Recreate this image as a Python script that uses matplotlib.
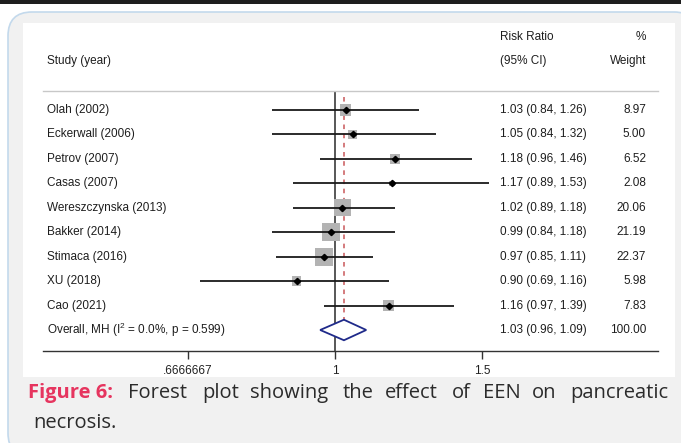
import numpy as np
import matplotlib
matplotlib.use("Agg")
import matplotlib.pyplot as plt
from matplotlib.patches import FancyBboxPatch, Rectangle
from matplotlib.transforms import IdentityTransform, blended_transform_factory

# data
studies = ["Olah (2002)", "Eckerwall (2006)", "Petrov (2007)", "Casas (2007)",
           "Wereszczynska (2013)", "Bakker (2014)", "Stimaca (2016)", "XU (2018)",
           "Cao (2021)"]
rr = [1.03, 1.05, 1.18, 1.17, 1.02, 0.99, 0.97, 0.90, 1.16]
lo = [0.84, 0.84, 0.96, 0.89, 0.89, 0.84, 0.85, 0.69, 0.97]
hi = [1.26, 1.32, 1.46, 1.53, 1.18, 1.18, 1.11, 1.16, 1.39]
weight = [8.97, 5.00, 6.52, 2.08, 20.06, 21.19, 22.37, 5.98, 7.83]

overall_label = "Overall, MH (I$^2$ = 0.0%, p = 0.599)"
overall_rr, overall_lo, overall_hi = 1.025, 0.96, 1.09
overall_txt = "1.03 (0.96, 1.09)"
overall_w = "100.00"

xticks = [2 / 3, 1, 1.5]
xticklabels = [".6666667", "1", "1.5"]

plt.rcParams['font.family'] = ['Liberation Sans', 'DejaVu Sans']
plt.rcParams['mathtext.fontset'] = 'custom'
plt.rcParams['mathtext.rm'] = 'Liberation Sans'

W, H = 681, 443
fig = plt.figure(figsize=(W / 100, H / 100), dpi=100)
fig.patch.set_facecolor("white")

# page decoration: top rule, rounded grey card, white panel
px = IdentityTransform()
fig.patches.append(Rectangle((0, H - 4), W, 4, transform=px, facecolor="#1e1e1e",
                             edgecolor="none", zorder=0))
fig.patches.append(FancyBboxPatch((8, -14), 690, H - 12 + 14,
                                  boxstyle="round,pad=0,rounding_size=24",
                                  transform=px, facecolor="#f1f1f1",
                                  edgecolor="#c3d9ec", linewidth=1.2, zorder=0))
fig.patches.append(Rectangle((23, H - 377), 652, 354, transform=px,
                             facecolor="white", edgecolor="none", zorder=0))

# plot axes (pixel box 43..658 x 91..351)
ax = fig.add_axes([43 / W, (H - 351) / H, 615 / W, 260 / H], zorder=3)
ax.set_facecolor("none")
ax.set_xscale("log")
ax.set_xlim(0.447, 2.437)
ax.set_ylim(9.86, -0.78)

n = len(studies)
ys = np.arange(n)
ax.hlines(ys, lo, hi, color="#1a1a1a", lw=1.3, zorder=3)
sides = 3.85 * np.sqrt(weight) * 0.72
ax.scatter(rr, ys, marker="s", s=sides ** 2, color="#b3b3b3", edgecolors="none", zorder=2)
ax.plot(rr, ys, "D", color="black", ms=3.2, zorder=4, ls="none")

ax.axvline(1, color="#2a2a2a", lw=1.1, zorder=1)
ax.vlines(overall_rr, -0.55, n + 0.5, color="#c9575a", lw=1.1, ls=(0, (3, 3)), zorder=1)

dy = 0.42
ax.fill([overall_lo, overall_rr, overall_hi, overall_rr, overall_lo],
        [n, n - dy, n, n + dy, n], facecolor="white", edgecolor="#1f2a8a",
        lw=1.3, zorder=5)

for s in ["left", "right"]:
    ax.spines[s].set_visible(False)
ax.spines["top"].set_color("#c8c8c8")
ax.spines["top"].set_linewidth(1.0)
ax.spines["bottom"].set_color("#333333")
ax.spines["bottom"].set_linewidth(1.0)
ax.set_yticks([])
ax.set_xticks(xticks)
ax.set_xticklabels(xticklabels)
ax.minorticks_off()
ax.tick_params(axis="x", length=6, width=1.0, color="#333333", labelsize=8.5,
               pad=4, labelcolor="#222222")

# text columns
tr = blended_transform_factory(ax.transAxes, ax.transData)
x_lab = (47 - 43) / 615
x_rr = (500 - 43) / 615
x_w = (646 - 43) / 615
fs = 8.5
tc = "#1e1e1e"
kw = dict(transform=tr, fontsize=fs, color=tc, va="center", clip_on=False)
ax.text(x_lab, -2.0, "Study (year)", ha="left", **kw)
ax.text(x_rr, -2.99, "Risk Ratio", ha="left", **kw)
ax.text(x_rr, -2.0, "(95% CI)", ha="left", **kw)
ax.text(x_w, -2.99, "%", ha="right", **kw)
ax.text(x_w, -2.0, "Weight", ha="right", **kw)
for i in range(n):
    ax.text(x_lab, i, studies[i], ha="left", **kw)
    ax.text(x_rr, i, "%.2f (%.2f, %.2f)" % (rr[i], lo[i], hi[i]), ha="left", **kw)
    ax.text(x_w, i, "%.2f" % weight[i], ha="right", **kw)
ax.text(x_lab, n, overall_label, ha="left", **kw)
ax.text(x_rr, n, overall_txt, ha="left", **kw)
ax.text(x_w, n, overall_w, ha="right", **kw)

# caption, justified word by word
cap_font = "Open Sans"
fig.text(28 / W, 1 - 398 / H, "Figure 6:", fontsize=14.5, family=cap_font,
         fontweight="bold", color="#e6355f", va="baseline", ha="left")
line1 = [("Forest", 128), ("plot", 202), ("showing", 250), ("the", 343),
         ("effect", 385), ("of", 452), ("EEN", 483), ("on", 532),
         ("pancreatic", 570)]
for word, x in line1:
    fig.text(x / W, 1 - 398 / H, word, fontsize=14.5, family=cap_font,
             color="#2b2b2b", va="baseline", ha="left")
fig.text(33 / W, 1 - 428 / H, "necrosis.", fontsize=14.5, family=cap_font,
         color="#2b2b2b", va="baseline", ha="left")

fig.savefig("out.png", dpi=100)
